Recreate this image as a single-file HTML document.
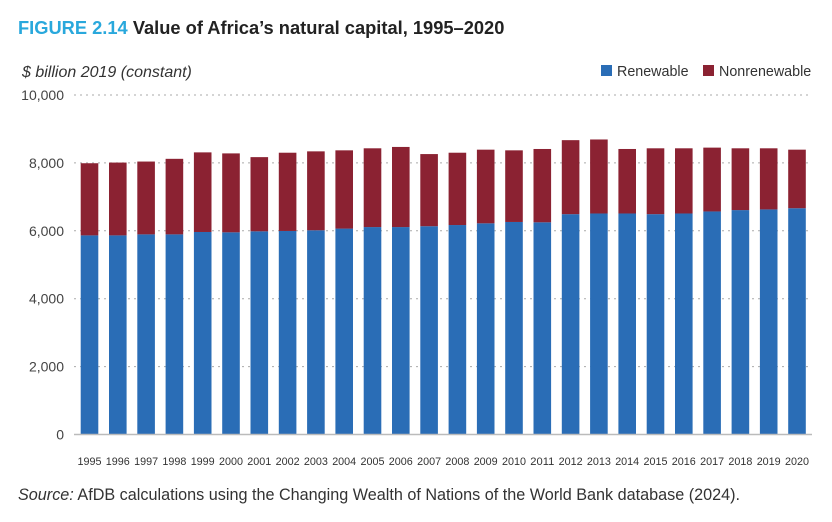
<!DOCTYPE html>
<html><head><meta charset="utf-8"><style>
body{margin:0;background:#fff;font-family:"Liberation Sans",sans-serif;}
svg{display:block}
</style></head><body>
<svg id="chart" width="832" height="522">
<text x="18" y="34" font-size="18.3" font-weight="bold" fill="#29a8dc">FIGURE 2.14 <tspan fill="#222">Value of Africa’s natural capital, 1995–2020</tspan></text>
<text x="22" y="77" font-size="16" font-style="italic" fill="#333">$ billion 2019 (constant)</text>
<g>
<rect x="601" y="65" width="11" height="11" fill="#2a6db6"/>
<text x="617" y="76" font-size="14.3" fill="#333">Renewable</text>
<rect x="703" y="65" width="11" height="11" fill="#8b2232"/>
<text x="719" y="76" font-size="14.3" fill="#333">Nonrenewable</text>
</g>
<g id="grid"></g><g id="bars"></g><g id="xlabels"></g>
<line x1="74" y1="434.5" x2="812" y2="434.5" stroke="#bbb" stroke-width="1.5"/>
<text x="18" y="500" font-size="16.2" fill="#333"><tspan font-style="italic">Source:</tspan> AfDB calculations using the Changing Wealth of Nations of the World Bank database (2024).</text>
</svg>
<script>
const years=[1995,1996,1997,1998,1999,2000,2001,2002,2003,2004,2005,2006,2007,2008,2009,2010,2011,2012,2013,2014,2015,2016,2017,2018,2019,2020];
const totals=[7990,8010,8040,8120,8310,8280,8170,8300,8340,8370,8430,8470,8260,8300,8390,8370,8410,8670,8690,8410,8430,8430,8450,8430,8430,8390];
const renewable=[5865,5865,5895,5895,5965,5955,5985,5995,6015,6065,6110,6110,6135,6170,6220,6260,6250,6490,6510,6510,6490,6510,6570,6610,6630,6665];
const yTicks=[0,2000,4000,6000,8000,10000];
const yTickLabels=["0","2,000","4,000","6,000","8,000","10,000"];
const NS="http://www.w3.org/2000/svg";
const y=v=>434.5-v/2000*67.9;
const x=i=>80.7+i*28.3;
const bw=17.6;
function mk(t,a,p){const e=document.createElementNS(NS,t);for(const k in a)e.setAttribute(k,a[k]);p.appendChild(e);return e;}
const grid=document.getElementById('grid'),bars=document.getElementById('bars'),xl=document.getElementById('xlabels');
yTicks.forEach((v,i)=>{
 if(v>0){const l=mk('line',{x1:74,x2:812,y1:y(v),y2:y(v),stroke:'#aaa','stroke-dasharray':'2 4','stroke-width':1},grid);
 
 }
 const t=mk('text',{x:64,y:y(v)+5,'text-anchor':'end','font-size':14,fill:'#444'},grid);
 t.textContent=yTickLabels[i];
 
 
});
years.forEach((yr,i)=>{
 const r=mk('rect',{x:x(i),y:y(renewable[i]),width:bw,height:y(0)-y(renewable[i]),fill:'#2a6db6'},bars);
 
 
 const n=mk('rect',{x:x(i),y:y(totals[i]),width:bw,height:y(renewable[i])-y(totals[i]),fill:'#8b2232'},bars);
 
 
 const t=mk('text',{x:x(i)+bw/2,y:465,'text-anchor':'middle','font-size':11,fill:'#333','textLength':24,'lengthAdjust':'spacingAndGlyphs'},xl);
 t.textContent=yr;
 
 
});
</script>
</body></html>
